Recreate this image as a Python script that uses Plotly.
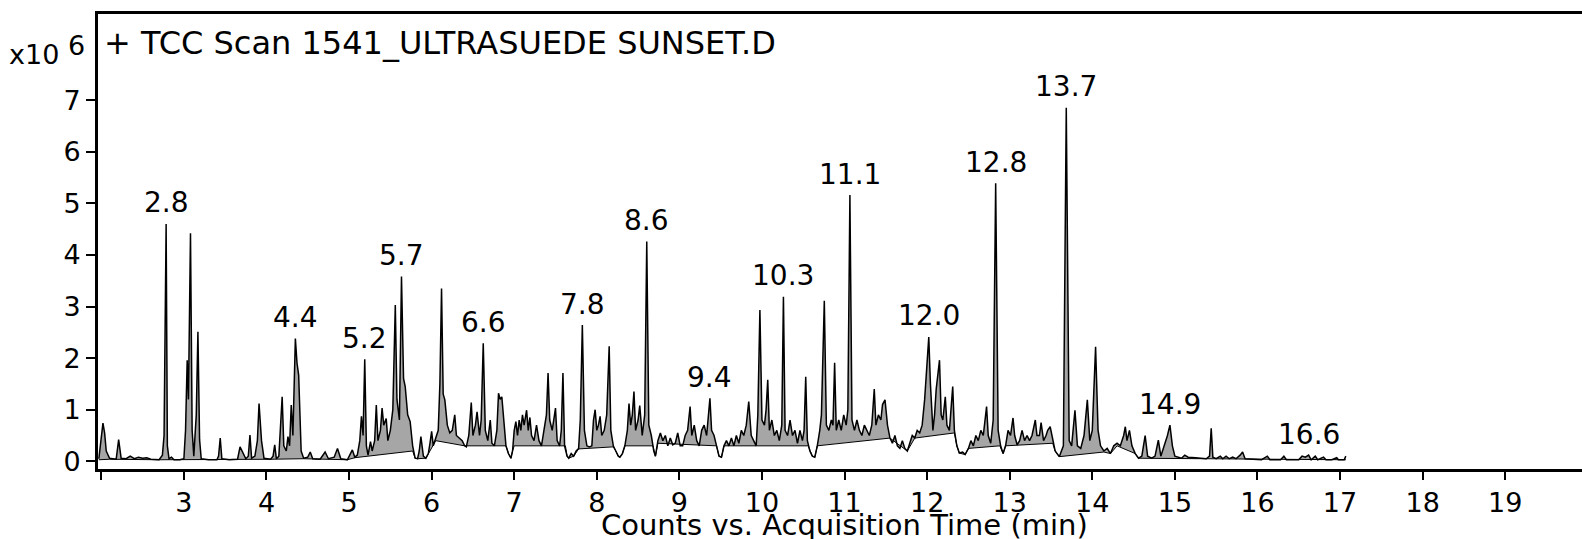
import plotly.graph_objects as go

# ---------------- data ----------------
# retention time (min) and counts (x10^6) of the TIC trace
time_min = [
    1.97, 2.0, 2.02, 2.04, 2.06, 2.1, 2.18, 2.21, 2.24, 2.3, 2.35, 2.4, 2.45, 2.5, 2.55, 2.6, 2.7,
    2.74, 2.76, 2.785, 2.80, 2.82, 2.85, 2.88, 2.95, 3.0, 3.02, 3.04, 3.055, 3.08, 3.10, 3.12, 3.15,
    3.17, 3.19, 3.21, 3.3, 3.4, 3.42, 3.44, 3.46, 3.55, 3.65, 3.68, 3.72, 3.75, 3.78, 3.8, 3.82,
    3.86, 3.89, 3.91, 3.94, 3.97, 4.05, 4.08, 4.1, 4.12, 4.15, 4.19, 4.21, 4.24, 4.26, 4.28, 4.3,
    4.32, 4.35, 4.37, 4.39, 4.42, 4.45, 4.5, 4.53, 4.56, 4.65, 4.71, 4.75, 4.82, 4.86, 4.9, 4.98,
    5.04, 5.07, 5.1, 5.13, 5.15, 5.17, 5.19, 5.21, 5.23, 5.26, 5.28, 5.31, 5.33, 5.35, 5.38, 5.4,
    5.42, 5.45, 5.47, 5.5, 5.53, 5.56, 5.58, 5.61, 5.635, 5.66, 5.68, 5.71, 5.74, 5.77, 5.8, 5.83,
    5.85, 5.87, 5.9, 5.93, 5.96, 5.98, 6.0, 6.02, 6.05, 6.08, 6.1, 6.12, 6.14, 6.16, 6.19, 6.22,
    6.25, 6.28, 6.3, 6.33, 6.37, 6.4, 6.42, 6.45, 6.48, 6.5, 6.53, 6.55, 6.58, 6.6, 6.625, 6.65,
    6.68, 6.71, 6.73, 6.76, 6.79, 6.81, 6.83, 6.85, 6.87, 6.9, 6.93, 6.96, 6.98, 7.0, 7.02, 7.04,
    7.06, 7.08, 7.1, 7.12, 7.15, 7.17, 7.19, 7.21, 7.24, 7.27, 7.3, 7.33, 7.36, 7.39, 7.41, 7.43,
    7.46, 7.48, 7.5, 7.52, 7.55, 7.57, 7.59, 7.61, 7.64, 7.66, 7.69, 7.72, 7.75, 7.78, 7.8, 7.825,
    7.85, 7.88, 7.91, 7.94, 7.96, 7.98, 8.0, 8.02, 8.04, 8.06, 8.09, 8.12, 8.15, 8.17, 8.2, 8.23,
    8.26, 8.28, 8.31, 8.34, 8.37, 8.39, 8.41, 8.43, 8.45, 8.47, 8.5, 8.52, 8.55, 8.58, 8.605, 8.63,
    8.66, 8.69, 8.71, 8.74, 8.77, 8.8, 8.83, 8.86, 8.89, 8.92, 8.95, 8.98, 9.01, 9.04, 9.07, 9.1,
    9.13, 9.15, 9.18, 9.21, 9.24, 9.27, 9.3, 9.33, 9.37, 9.39, 9.42, 9.45, 9.48, 9.51, 9.54, 9.57,
    9.6, 9.63, 9.66, 9.69, 9.72, 9.75, 9.78, 9.81, 9.84, 9.87, 9.9, 9.93, 9.95, 9.975, 10.0, 10.03,
    10.05, 10.07, 10.09, 10.12, 10.15, 10.18, 10.21, 10.24, 10.26, 10.28, 10.31, 10.34, 10.37, 10.4,
    10.43, 10.46, 10.49, 10.51, 10.53, 10.55, 10.58, 10.61, 10.64, 10.67, 10.7, 10.72, 10.755, 10.78,
    10.81, 10.84, 10.86, 10.88, 10.9, 10.93, 10.96, 10.99, 11.02, 11.04, 11.065, 11.09, 11.12, 11.15,
    11.18, 11.21, 11.24, 11.27, 11.3, 11.33, 11.36, 11.38, 11.41, 11.44, 11.46, 11.49, 11.52, 11.55,
    11.58, 11.61, 11.64, 11.67, 11.7, 11.73, 11.76, 11.79, 11.82, 11.85, 11.88, 11.91, 11.94, 11.97,
    11.99, 12.02, 12.04, 12.07, 12.09, 12.11, 12.15, 12.17, 12.19, 12.22, 12.24, 12.27, 12.31, 12.33,
    12.36, 12.39, 12.43, 12.46, 12.5, 12.53, 12.56, 12.59, 12.62, 12.65, 12.68, 12.72, 12.74, 12.77,
    12.8, 12.83, 12.86, 12.89, 12.92, 12.95, 12.98, 13.01, 13.04, 13.06, 13.09, 13.12, 13.15, 13.18,
    13.21, 13.24, 13.27, 13.31, 13.33, 13.36, 13.38, 13.41, 13.44, 13.46, 13.49, 13.52, 13.55, 13.6,
    13.65, 13.685, 13.72, 13.75, 13.79, 13.82, 13.86, 13.9, 13.94, 13.97, 14.0, 14.04, 14.07, 14.1,
    14.14, 14.18, 14.22, 14.26, 14.3, 14.34, 14.38, 14.4, 14.42, 14.45, 14.48, 14.52, 14.56, 14.6,
    14.64, 14.67, 14.72, 14.76, 14.8, 14.83, 14.87, 14.91, 14.94, 14.97, 15.0, 15.04, 15.08, 15.12,
    15.16, 15.25, 15.3, 15.38, 15.42, 15.44, 15.46, 15.5, 15.55, 15.58, 15.62, 15.66, 15.7, 15.74,
    15.79, 15.82, 15.85, 15.95, 16.05, 16.12, 16.15, 16.28, 16.32, 16.35, 16.5, 16.54, 16.58, 16.62,
    16.65, 16.7, 16.73, 16.8, 16.83, 16.9, 16.96, 16.98, 17.05, 17.07,
]
counts_1e6 = [
    0.05, 0.45, 0.74, 0.55, 0.2, 0.06, 0.04, 0.42, 0.06, 0.05, 0.1, 0.05, 0.08, 0.06, 0.07, 0.04, 0.03,
    0.12, 0.5, 4.6, 0.3, 0.05, 0.08, 0.03, 0.03, 0.05, 0.6, 1.96, 1.2, 4.42, 0.6, 0.1, 0.9,
    2.51, 0.42, 0.05, 0.03, 0.03, 0.1, 0.45, 0.05, 0.03, 0.04, 0.28, 0.15, 0.05, 0.1, 0.51, 0.06,
    0.1, 0.4, 1.12, 0.4, 0.06, 0.04, 0.1, 0.32, 0.05, 0.1, 1.25, 0.3, 0.2, 0.48, 0.3, 1.09,
    0.5, 2.38, 1.9, 1.67, 0.2, 0.06, 0.08, 0.18, 0.05, 0.04, 0.18, 0.05, 0.08, 0.25, 0.05, 0.03,
    0.22, 0.08, 0.12, 0.4, 0.87, 0.5, 1.98, 0.3, 0.12, 0.38, 0.2, 0.4, 1.09, 0.4, 0.6, 1.03,
    0.7, 0.83, 0.4, 0.6, 1.0, 3.03, 1.2, 0.8, 3.58, 1.6, 1.45, 0.9, 0.77, 0.3, 0.06, 0.05,
    0.2, 0.48, 0.1, 0.06, 0.15, 0.35, 0.58, 0.3, 0.45, 0.6, 1.5, 3.35, 1.3, 1.19, 0.7, 0.55,
    0.6, 0.9, 0.5, 0.45, 0.4, 0.3, 0.28, 0.5, 1.14, 0.5, 0.7, 0.96, 0.5, 0.8, 2.29, 0.6,
    0.4, 0.8, 0.35, 0.3, 0.6, 1.32, 1.2, 1.25, 0.8, 0.3, 0.15, 0.06, 0.2, 0.6, 0.77, 0.5,
    0.8, 0.6, 0.9, 0.7, 0.99, 0.6, 0.85, 0.5, 0.4, 0.7, 0.4, 0.3, 0.6, 0.9, 1.71, 0.8,
    0.6, 0.8, 1.03, 0.4, 0.3, 0.6, 1.71, 0.3, 0.1, 0.06, 0.15, 0.1, 0.2, 0.25, 0.8, 2.64,
    0.6, 0.3, 0.28, 0.3, 0.8, 1.0, 0.6, 0.7, 0.87, 0.5, 0.6, 0.9, 2.23, 0.6, 0.3, 0.2,
    0.1, 0.08, 0.15, 0.3, 0.6, 1.12, 0.7, 0.9, 1.35, 0.6, 0.8, 1.08, 0.5, 0.9, 4.26, 0.7,
    0.5, 0.2, 0.1, 0.4, 0.55, 0.4, 0.5, 0.3, 0.45, 0.32, 0.35, 0.55, 0.3, 0.3, 0.5, 0.6,
    1.06, 0.5, 0.7, 0.4, 0.3, 0.6, 0.7, 0.5, 1.22, 0.6, 0.5, 0.3, 0.1, 0.08, 0.3, 0.4,
    0.3, 0.45, 0.3, 0.5, 0.35, 0.6, 0.5, 0.7, 1.16, 0.5, 0.4, 0.3, 0.9, 2.93, 0.8, 0.7,
    1.0, 1.58, 0.6, 0.8, 0.5, 0.6, 0.4, 0.7, 3.19, 0.6, 0.5, 0.8, 0.5, 0.6,
    0.35, 0.6, 0.4, 0.6, 1.64, 0.4, 0.2, 0.1, 0.08, 0.3, 0.6, 0.9, 3.11, 0.7,
    0.6, 0.8, 0.7, 1.91, 0.6, 0.8, 0.6, 0.9, 0.7, 1.0, 5.16, 0.8, 0.6, 0.8,
    0.6, 0.5, 0.7, 0.6, 0.5, 0.7, 1.4, 0.7, 0.9, 0.8, 1.1, 1.19, 0.7, 0.45,
    0.35, 0.5, 0.3, 0.25, 0.4, 0.25, 0.2, 0.35, 0.5, 0.45, 0.6, 0.55, 0.7, 1.2,
    1.7, 2.41, 1.5, 0.6, 0.9, 1.4, 1.96, 0.9, 0.8, 1.25, 0.7, 0.6, 1.45, 0.6,
    0.3, 0.16, 0.18, 0.13, 0.25, 0.4, 0.3, 0.5, 0.4, 0.6, 0.5, 1.06, 0.5, 0.35,
    0.8, 5.39, 0.6, 0.3, 0.15, 0.3, 0.6, 0.5, 0.84, 0.5, 0.32, 0.4, 0.6, 0.4,
    0.5, 0.4, 0.5, 0.8, 0.5, 0.5, 0.75, 0.4, 0.5, 0.6, 0.67, 0.4, 0.2, 0.09,
    0.3, 6.85, 0.4, 0.3, 0.99, 0.3, 0.25, 0.5, 1.19, 0.4, 0.6, 2.22, 0.6, 0.3,
    0.2, 0.25, 0.15, 0.3, 0.35, 0.3, 0.5, 0.67, 0.4, 0.6, 0.3, 0.15, 0.06, 0.1,
    0.5, 0.1, 0.06, 0.1, 0.41, 0.1, 0.3, 0.5, 0.7, 0.3, 0.1, 0.08, 0.06, 0.12,
    0.08, 0.07, 0.06, 0.05, 0.1, 0.64, 0.08, 0.05, 0.1, 0.05, 0.1, 0.05, 0.08, 0.05,
    0.12, 0.18, 0.05, 0.04, 0.03, 0.1, 0.03, 0.03, 0.1, 0.03, 0.03, 0.1, 0.08, 0.12,
    0.03, 0.1, 0.03, 0.08, 0.03, 0.03, 0.07, 0.03, 0.03, 0.1,
]

# integration baseline under the peaks (min, x10^6 counts)
baseline_time = [
    1.97, 2.1, 2.7, 3.0, 3.3, 3.65, 4.05, 4.45, 4.98, 5.07, 5.77, 5.8, 5.83, 5.93, 6.05, 6.4,
    6.9, 6.93, 6.96, 6.98, 7.0, 7.62, 7.64, 7.66, 7.72, 7.78, 8.2, 8.23, 8.26, 8.28, 8.31, 8.34,
    8.68, 8.71, 8.74, 9.45, 9.48, 9.51, 9.54, 10.56, 10.61, 10.64, 10.67, 11.55, 11.76, 11.85,
    12.33, 12.36, 12.39, 12.46, 12.5, 12.88, 12.92, 12.95, 13.52, 13.55, 13.6, 14.14, 14.22,
    14.3, 14.52, 14.56, 17.07,
]
baseline_counts = [
    0.03, 0.04, 0.03, 0.03, 0.03, 0.04, 0.04, 0.05, 0.03, 0.07, 0.2, 0.06, 0.05, 0.06, 0.4, 0.3,
    0.3, 0.15, 0.06, 0.2, 0.3, 0.3, 0.1, 0.06, 0.1, 0.24, 0.28, 0.2, 0.1, 0.08, 0.15, 0.3,
    0.3, 0.1, 0.35, 0.3, 0.1, 0.08, 0.3, 0.3, 0.1, 0.08, 0.3, 0.45, 0.2, 0.45,
    0.55, 0.3, 0.16, 0.13, 0.25, 0.3, 0.15, 0.3, 0.35, 0.2, 0.09, 0.18, 0.15,
    0.3, 0.15, 0.06, 0.03,
]

# labelled peaks (retention time text)
peak_labels = ["2.8", "4.4", "5.2", "5.7", "6.6", "7.8", "8.6", "9.4", "10.3",
               "11.1", "12.0", "12.8", "13.7", "14.9", "16.6"]

x_tick_values = list(range(2, 20))
x_tick_text = [""] + [str(v) for v in range(3, 20)]
y_tick_values = list(range(0, 8))

title_text = "+ TCC Scan 1541_ULTRASUEDE SUNSET.D"
x_title_text = "Counts vs. Acquisition Time (min)"

# ---------------- figure ----------------
FONT = "DejaVu Sans, Liberation Sans, Arial, sans-serif"

fig = go.Figure()
fig.add_trace(go.Scatter(
    x=baseline_time, y=baseline_counts, mode="lines",
    line=dict(color="black", width=1), hoverinfo="skip", showlegend=False,
))
fig.add_trace(go.Scatter(
    x=time_min, y=counts_1e6, mode="lines",
    line=dict(color="black", width=1.5),
    fill="tonexty", fillcolor="#a6a6a6", showlegend=False,
))

# peak labels positioned above the apex of each labelled peak
for lab in peak_labels:
    t0 = float(lab)
    cands = [(v, t) for t, v in zip(time_min, counts_1e6) if abs(t - t0) <= 0.07]
    v, t = max(cands)
    fig.add_annotation(x=t, y=v, text=lab, showarrow=False, xanchor="center",
                       yanchor="middle", yshift=21,
                       font=dict(family=FONT, size=28, color="black"))

fig.add_annotation(xref="paper", yref="paper", x=0.003, y=0.936, xanchor="left",
                   yanchor="middle", text=title_text, showarrow=False,
                   font=dict(family=FONT, size=32, color="black"))
fig.add_annotation(xref="paper", yref="paper", x=-0.061, y=0.912, xanchor="left",
                   yanchor="middle", text="x10", showarrow=False,
                   font=dict(family=FONT, size=27, color="black"))
fig.add_annotation(xref="paper", yref="paper", x=-0.0145, y=0.93, xanchor="center",
                   yanchor="middle", text="6", showarrow=False,
                   font=dict(family=FONT, size=27, color="black"))
fig.add_annotation(xref="paper", yref="paper", x=0.503, y=-0.122, xanchor="center",
                   yanchor="middle", text=x_title_text, showarrow=False,
                   font=dict(family=FONT, size=29, color="black"))

fig.update_layout(
    width=1582, height=539,
    margin=dict(l=98, r=0, t=14, b=70),
    paper_bgcolor="white", plot_bgcolor="white",
    font=dict(family=FONT, size=27, color="black"),
    xaxis=dict(range=[1.96, 19.93], tickvals=x_tick_values, ticktext=x_tick_text,
               automargin=False,
               showgrid=False, zeroline=False, showline=True, linecolor="black",
               linewidth=3, mirror=True, ticks="outside", ticklen=8, tickwidth=2,
               tickcolor="black", tickfont=dict(family=FONT, size=27)),
    yaxis=dict(range=[-0.149, 8.669], tickvals=y_tick_values, automargin=False,
               showgrid=False, zeroline=False, showline=True, linecolor="black",
               linewidth=3, ticks="outside", ticklen=9, tickwidth=2,
               tickcolor="black", tickfont=dict(family=FONT, size=27)),
)

# remove the browser's default page margin so the figure sits at the window's corner
fig.write_html("out.html",
               config={"displayModeBar": False},
               post_script="document.body.style.margin='0';document.body.style.overflow='hidden';")
